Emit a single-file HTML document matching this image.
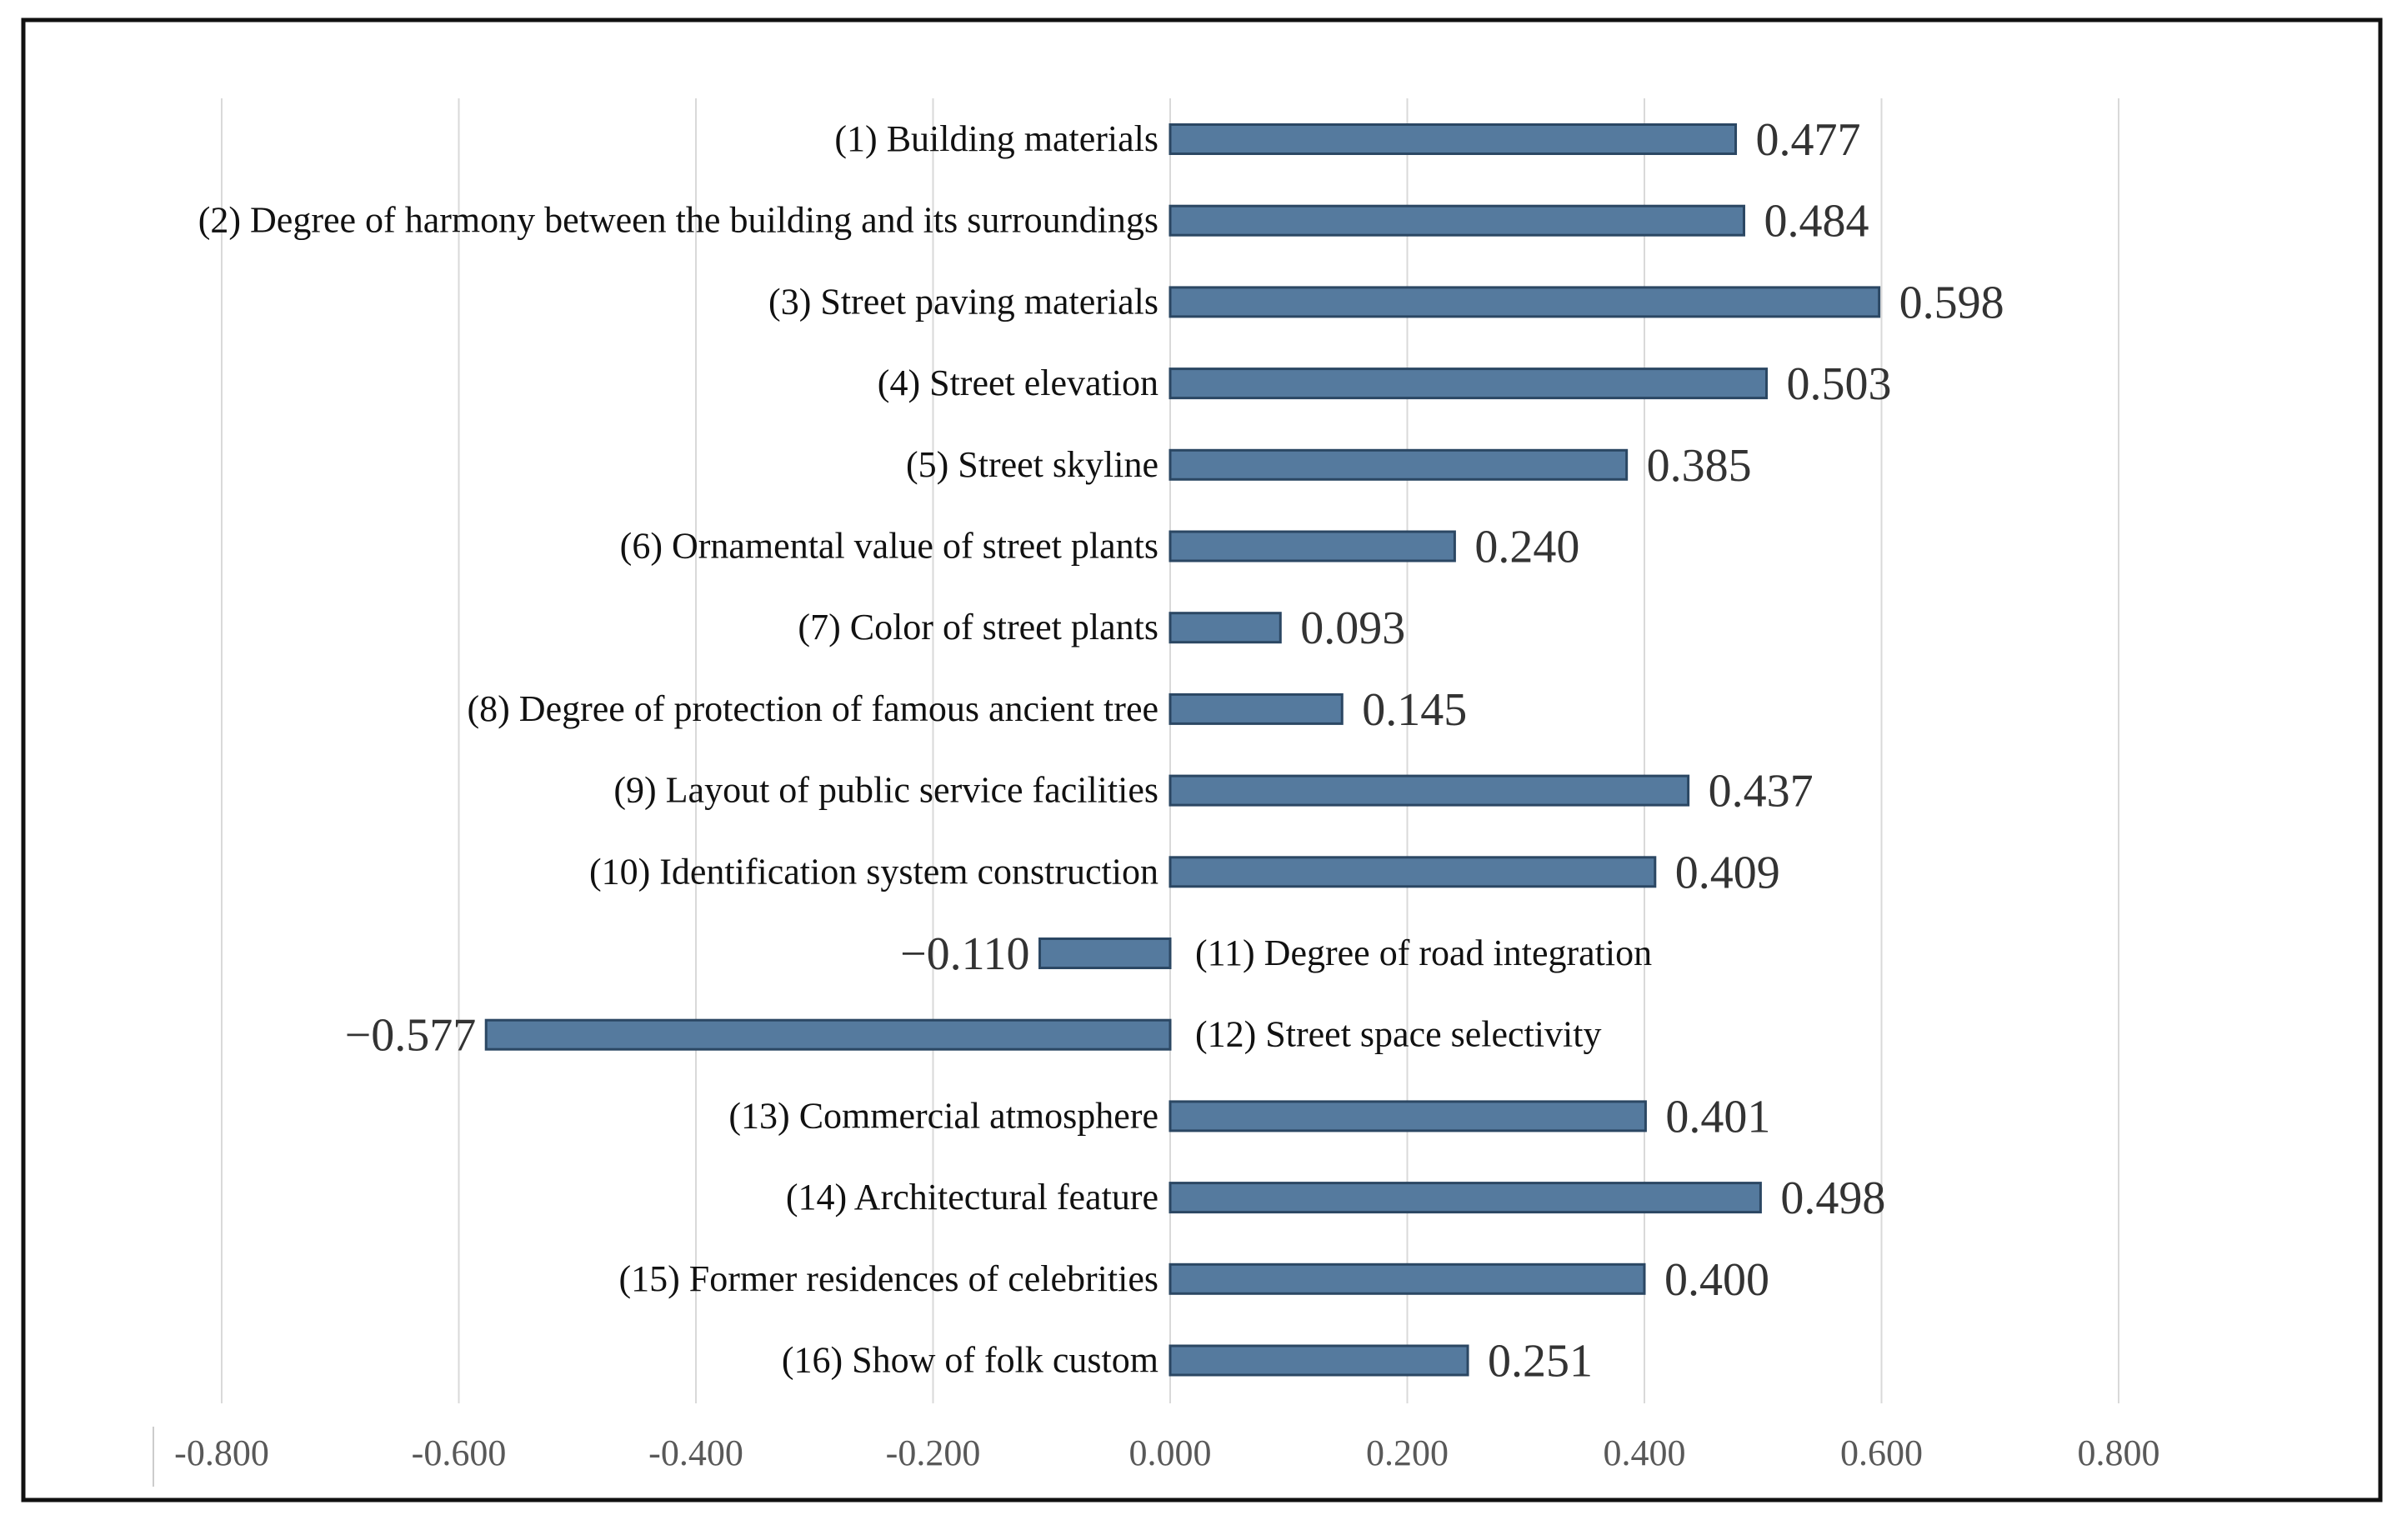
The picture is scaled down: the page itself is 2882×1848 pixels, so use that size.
<!DOCTYPE html>
<html><head><meta charset="utf-8"><style>
html,body{margin:0;padding:0;background:#fff;}
svg{display:block;}
text{font-family:"Liberation Serif",serif;}
</style></head><body>
<svg id="chart" width="2882" height="1848" viewBox="0 0 2882 1848" xmlns="http://www.w3.org/2000/svg">
<rect x="28" y="24" width="2828" height="1776" fill="#fff" stroke="#111" stroke-width="5"/>
<line x1="184" y1="1712" x2="184" y2="1784" stroke="#ccc" stroke-width="2"/>
<g id="grid"></g><g id="bars"></g><g id="labels"></g><g id="ticks"></g>
</svg>
<script>
const categories=["(1) Building materials","(2) Degree of harmony between  the building and its surroundings","(3) Street paving materials","(4) Street elevation","(5) Street skyline","(6) Ornamental value of street plants","(7) Color of street plants","(8) Degree of protection of famous ancient tree","(9) Layout of public service facilities","(10) Identification system construction","(11) Degree of road integration","(12) Street space selectivity","(13) Commercial  atmosphere","(14) Architectural feature","(15) Former residences of celebrities","(16) Show of folk custom"];
const values=[0.477,0.484,0.598,0.503,0.385,0.240,0.093,0.145,0.437,0.409,-0.110,-0.577,0.401,0.498,0.400,0.251];
const tickValues=[-0.8,-0.6,-0.4,-0.2,0,0.2,0.4,0.6,0.8];
const tickLabels=["-0.800","-0.600","-0.400","-0.200","0.000","0.200","0.400","0.600","0.800"];
const NS="http://www.w3.org/2000/svg";
const x0=1404, pxPer=1422.5;
function xs(v){return x0+v*pxPer;}
function yc(i){return 167+i*97.7;}
function mk(tag,attrs,parent,txt){const e=document.createElementNS(NS,tag);for(const k in attrs)e.setAttribute(k,attrs[k]);if(txt!==undefined)e.textContent=txt;document.getElementById(parent).appendChild(e);return e;}
tickValues.forEach((t,i)=>{
  const g=mk('line',{x1:xs(t),x2:xs(t),y1:118,y2:1684,stroke:'#d9d9d9','stroke-width':2},'grid');
  
  
  const l=mk('text',{x:xs(t),y:1758,'text-anchor':'middle','font-size':44,fill:'#595959'},'ticks',tickLabels[i]);
  
  
});
const bh=35;
values.forEach((v,i)=>{
  const y=yc(i);
  const xa=Math.min(xs(0),xs(v)), w=Math.abs(xs(v)-xs(0));
  const b=mk('rect',{x:xa,y:y-bh/2,width:w,height:bh,fill:'#557a9e',stroke:'#2b4763','stroke-width':3},'bars');
  
  
  const s=v<0?'\u2212'+Math.abs(v).toFixed(3):v.toFixed(3);
  let vl,cl;
  if(v>=0){
    vl=mk('text',{x:xs(v)+24,y:y+19,'font-size':56,fill:'#333'},'labels',s);
    cl=mk('text',{x:xs(0)-14,y:y+14,'text-anchor':'end','font-size':44,fill:'#111'},'labels',categories[i]);
  }else{
    vl=mk('text',{x:xs(v)-12,y:y+19,'text-anchor':'end','font-size':56,fill:'#333'},'labels',s);
    cl=mk('text',{x:xs(0)+30,y:y+14,'font-size':44,fill:'#111'},'labels',categories[i]);
  }
  
  
  
  
});
</script>
</body></html>
